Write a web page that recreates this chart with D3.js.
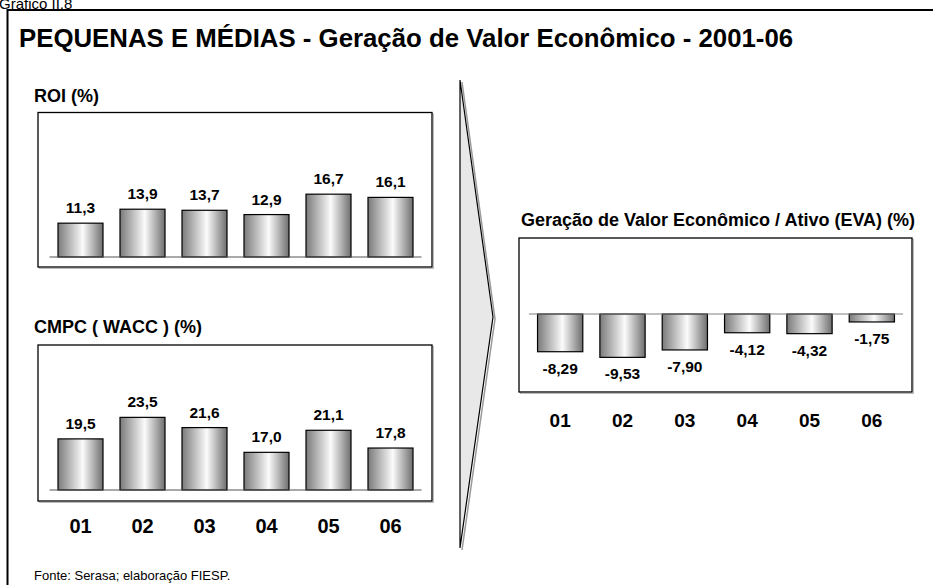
<!DOCTYPE html>
<html>
<head>
<meta charset="utf-8">
<script src="https://cdn.jsdelivr.net/npm/d3@7"></script>
<style>
  body { margin: 0; background: #fff; }
  svg { display: block; font-family: "Liberation Sans", Arial, sans-serif; }
</style>
</head>
<body>
<svg id="chart"></svg>
<script>
// data
var years = ["01", "02", "03", "04", "05", "06"];
var roi = [11.3, 13.9, 13.7, 12.9, 16.7, 16.1];
var wacc = [19.5, 23.5, 21.6, 17.0, 21.1, 17.8];
var eva = [-8.29, -9.53, -7.90, -4.12, -4.32, -1.75];

var width = 933;
var height = 585;

var svg = d3.select("#chart")
            .attr("width", width)
            .attr("height", height);

// brazilian number format (comma decimal, plain hyphen for minus)
var ptBR = d3.formatLocale({decimal: ",", thousands: ".", grouping: [3], currency: ["R$", ""], minus: "-"});
var f1 = ptBR.format(".1f");
var f2 = ptBR.format(".2f");

// cylinder-ish horizontal gradient for bars
var defs = svg.append("defs");
var grad = defs.append("linearGradient")
               .attr("id", "barGrad")
               .attr("x1", "0%").attr("x2", "100%")
               .attr("y1", "0%").attr("y2", "0%");
grad.append("stop").attr("offset", "0%").attr("stop-color", "#7a7a7a");
grad.append("stop").attr("offset", "55%").attr("stop-color", "#fbfbfb");
grad.append("stop").attr("offset", "100%").attr("stop-color", "#6e6e6e");

// outer frame (only top and left are inside the picture)
svg.append("path")
   .attr("d", "M7.5," + height + "V10H" + width)
   .attr("fill", "none")
   .attr("stroke", "#000")
   .attr("stroke-width", 2);

svg.append("text")
   .attr("x", -1).attr("y", 9)
   .style("font-size", "15px")
   .text("Gráfico II.8");

svg.append("text")
   .attr("x", 19).attr("y", 47)
   .style("font-size", "25.8px")
   .style("font-weight", "bold")
   .text("PEQUENAS E MÉDIAS - Geração de Valor Econômico - 2001-06");

// arrow between the panels
svg.append("path")
   .attr("d", "M462,82L495,319L462,550")
   .attr("fill", "none")
   .attr("stroke", "#9a9a9a")
   .attr("stroke-width", 1.5);
svg.append("path")
   .attr("d", "M460,80L493,317L460,548Z")
   .attr("fill", "#e8e8e8")
   .attr("stroke", "#000")
   .attr("stroke-width", 1.2);

function drawPanel(o) {
    var g = svg.append("g");

    g.append("text")
     .attr("x", o.titleX).attr("y", o.titleY)
     .style("font-size", "18px")
     .style("font-weight", "bold")
     .text(o.title);

    // frame with faint shadow
    g.append("rect")
     .attr("x", o.box[0] + 1.5).attr("y", o.box[1] + 1.5)
     .attr("width", o.box[2] - o.box[0]).attr("height", o.box[3] - o.box[1])
     .attr("fill", "none").attr("stroke", "#bbb").attr("stroke-width", 1);
    g.append("rect")
     .attr("x", o.box[0]).attr("y", o.box[1])
     .attr("width", o.box[2] - o.box[0]).attr("height", o.box[3] - o.box[1])
     .attr("fill", "#fff").attr("stroke", "#000").attr("stroke-width", 1.3);

    var x = d3.scaleBand()
              .domain(years)
              .range(o.xRange)
              .paddingInner(0.274)
              .paddingOuter(0.137);

    var y = d3.scaleLinear()
              .domain(o.yDomain)
              .range(o.yRange);

    var base = o.negative ? y(0) : y(o.yDomain[0]);

    g.selectAll("rect.bar")
     .data(o.values)
     .enter().append("rect")
       .attr("class", "bar")
       .attr("x", (d, i) => x(years[i]))
       .attr("width", x.bandwidth())
       .attr("y", d => Math.min(y(d), base))
       .attr("height", d => Math.abs(base - y(d)))
       .attr("fill", "url(#barGrad)")
       .attr("stroke", "#000")
       .attr("stroke-width", 1.2);

    // baseline
    g.append("line")
     .attr("x1", o.xRange[0]).attr("x2", o.xRange[1])
     .attr("y1", base).attr("y2", base)
     .attr("stroke", o.negative ? "#808080" : "#555")
     .attr("stroke-width", 1.2);

    g.selectAll("text.val")
     .data(o.values)
     .enter().append("text")
       .attr("class", "val")
       .attr("x", (d, i) => x(years[i]) + x.bandwidth() / 2)
       .attr("y", d => o.negative ? y(d) + 22 : y(d) - 10)
       .attr("text-anchor", "middle")
       .style("font-size", "15.5px")
       .style("font-weight", "bold")
       .text(d => o.fmt(d));

    if (o.catY) {
        g.selectAll("text.cat")
         .data(years)
         .enter().append("text")
           .attr("class", "cat")
           .attr("x", d => x(d) + x.bandwidth() / 2)
           .attr("y", o.catY)
           .attr("text-anchor", "middle")
           .style("font-size", o.catSize)
           .style("font-weight", "bold")
           .text(d => d);
    }
}

drawPanel({
    title: "ROI (%)", titleX: 34, titleY: 102,
    box: [38, 112.5, 432, 267],
    xRange: [49.5, 421.5],
    yDomain: [5, 25], yRange: [257, 149.6],
    values: roi, fmt: f1
});

drawPanel({
    title: "CMPC ( WACC ) (%)", titleX: 34, titleY: 333,
    box: [38, 345, 432, 501],
    xRange: [49.5, 421.5],
    yDomain: [10, 30], yRange: [490, 382.4],
    values: wacc, fmt: f1,
    catY: 533, catSize: "20px"
});

drawPanel({
    title: "Geração de Valor Econômico / Ativo (EVA) (%)", titleX: 521, titleY: 226,
    box: [519, 238, 912, 392],
    xRange: [529, 903],
    yDomain: [-10, 0], yRange: [359.5, 314],
    values: eva, fmt: f2, negative: true,
    catY: 427, catSize: "19px"
});

svg.append("text")
   .attr("x", 34).attr("y", 580)
   .style("font-size", "13px")
   .text("Fonte: Serasa; elaboração FIESP.");
</script>
</body>
</html>
